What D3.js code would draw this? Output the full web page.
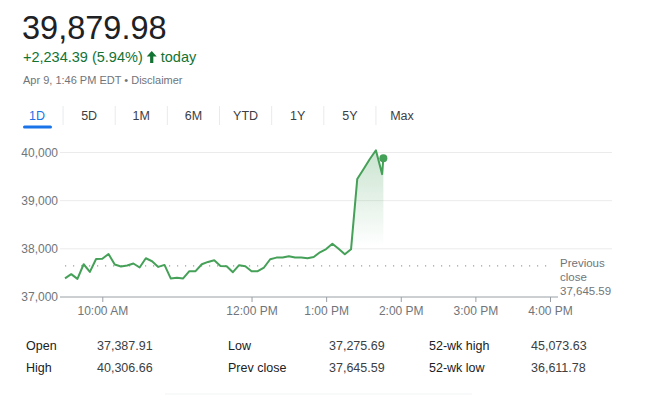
<!DOCTYPE html>
<html lang="en">
<head>
<meta charset="UTF-8">
<title>Intraday</title>
<script src="https://cdn.jsdelivr.net/npm/d3@7"></script>
<style>
  body { margin: 0; background: #fff; }
  svg { font-family: Arial, "Liberation Sans", sans-serif; display: block; }
</style>
</head>
<body>
<script>

    // intraday samples (5 min) + last print
    const times = ["9:30", "9:35", "9:40", "9:45", "9:50", "9:55", "10:00", "10:05", "10:10", "10:15",
        "10:20", "10:25", "10:30", "10:35", "10:40", "10:45", "10:50", "10:55", "11:00", "11:05",
        "11:10", "11:15", "11:20", "11:25", "11:30", "11:35", "11:40", "11:45", "11:50", "11:55",
        "12:00", "12:05", "12:10", "12:15", "12:20", "12:25", "12:30", "12:35", "12:40", "12:45",
        "12:50", "12:55", "13:00", "13:05", "13:10", "13:15", "13:20", "13:25", "13:30", "13:35",
        "13:40", "13:45", "13:46"];
    const prices = [37388, 37474, 37377, 37680, 37522, 37790, 37794, 37893, 37674, 37633,
        37654, 37695, 37612, 37804, 37742, 37625, 37666, 37386, 37402, 37386,
        37536, 37536, 37680, 37728, 37763, 37645, 37639, 37515, 37660, 37639,
        37536, 37536, 37612, 37784, 37818, 37818, 37845, 37818, 37818, 37804,
        37831, 37928, 37996, 38107, 38000, 37887, 37990, 39448, 39654, 39860,
        40046, 39551, 39879.98];

    const prev_close = 37645.59;
    const y_ticks = [37000, 38000, 39000, 40000];
    const x_ticks = ["10:00", "12:00", "13:00", "14:00", "15:00", "16:00"];
    const tabs = ["1D", "5D", "1M", "6M", "YTD", "1Y", "5Y", "Max"];
    const stat_labels = [["Open", "High"], ["Low", "Prev close"], ["52-wk high", "52-wk low"]];
    const stat_values = [["37,387.91", "40,306.66"], ["37,275.69", "37,645.59"], ["45,073.63", "36,611.78"]];

    const width = 650, height = 396;
    const green = "#45a058", text_green = "#137333", grey = "#70757a", dark = "#202124";

    const parse = d3.timeParse("%H:%M");
    const data = times.map((t, i) => ({t: parse(t), v: prices[i]}));

    const svg = d3.select("body").append("svg").attr("width", width).attr("height", height);

    // header
    svg.append("text").attr("x", 22).attr("y", 39).attr("font-size", 32.5).attr("fill", dark)
        .text("39,879.98");
    const change = svg.append("text").attr("x", 23).attr("y", 62).attr("font-size", 14.5).attr("fill", text_green)
        .text("+2,234.39 (5.94%)");
    const cx = 23 + change.node().getComputedTextLength() + 9;
    // up arrow icon
    svg.append("path")
        .attr("transform", `translate(${cx},57)`)
        .attr("d", "M0,-6 L5,-0.5 L1.6,-0.5 L1.6,6 L-1.6,6 L-1.6,-0.5 L-5,-0.5 Z")
        .attr("fill", text_green);
    svg.append("text").attr("x", cx + 9).attr("y", 62).attr("font-size", 14.5).attr("fill", text_green)
        .text("today");
    svg.append("text").attr("x", 23).attr("y", 84).attr("font-size", 11).attr("fill", grey)
        .text("Apr 9, 1:46 PM EDT \u2022 Disclaimer");

    // range tabs
    const tab_x = d3.scalePoint().domain(tabs).range([37, 402]);
    const tab = svg.append("g").selectAll("g").data(tabs).join("g");
    tab.append("text")
        .attr("x", d => tab_x(d)).attr("y", 119.5)
        .attr("text-anchor", "middle").attr("font-size", 12.5)
        .attr("fill", (d, i) => i === 0 ? "#1a73e8" : "#3c4043")
        .text(d => d);
    tab.filter((d, i) => i < tabs.length - 1).append("line")
        .attr("x1", d => tab_x(d) + tab_x.step() / 2).attr("x2", d => tab_x(d) + tab_x.step() / 2)
        .attr("y1", 106).attr("y2", 125)
        .attr("stroke", "#e8eaed");
    svg.append("rect").attr("x", 23).attr("y", 125.5).attr("width", 29).attr("height", 3)
        .attr("rx", 1.5).attr("fill", "#1a73e8");

    // chart
    const x = d3.scaleTime().domain([parse("9:30"), parse("16:00")]).range([65, 550]);
    const y = d3.scaleLinear().domain([37000, 40000]).range([297, 152.5]);

    svg.append("g").selectAll("line").data(y_ticks.slice(1)).join("line")
        .attr("x1", 60).attr("x2", 612)
        .attr("y1", d => y(d)).attr("y2", d => y(d))
        .attr("stroke", "#ebebeb");

    svg.append("g").selectAll("text").data(y_ticks).join("text")
        .attr("x", 58).attr("y", d => y(d)).attr("dy", "0.35em")
        .attr("text-anchor", "end").attr("font-size", 12).attr("fill", grey)
        .text(d3.format(","));

    const x_axis = svg.append("g")
        .attr("transform", `translate(0,${y(37000)})`)
        .call(d3.axisBottom(x)
            .tickValues(x_ticks.map(parse))
            .tickFormat(d3.timeFormat("%-I:%M %p"))
            .tickSize(5)
            .tickPadding(4));
    x_axis.select(".domain").remove();
    x_axis.selectAll(".tick line").attr("stroke", "#9aa0a6");
    x_axis.selectAll(".tick text").attr("font-size", 12).attr("fill", grey)
        .attr("font-family", "Arial, 'Liberation Sans', sans-serif");
    svg.append("line")
        .attr("x1", 60).attr("x2", 558)
        .attr("y1", y(37000)).attr("y2", y(37000))
        .attr("stroke", "#9aa0a6");

    // previous close
    svg.append("line")
        .attr("x1", x(parse("9:30"))).attr("x2", 553)
        .attr("y1", y(prev_close)).attr("y2", y(prev_close))
        .attr("stroke", "#9aa0a6").attr("stroke-width", 1.2)
        .attr("stroke-dasharray", "1.2 6.8");
    svg.append("text").attr("font-size", 11.5).attr("fill", grey)
        .selectAll("tspan").data(["Previous", "close", d3.format(",.2f")(prev_close)]).join("tspan")
        .attr("x", 560).attr("y", (d, i) => 267 + i * 14)
        .text(d => d);

    // area gradient
    const grad = svg.append("defs").append("linearGradient")
        .attr("id", "fade").attr("gradientUnits", "userSpaceOnUse")
        .attr("x1", 0).attr("x2", 0).attr("y1", y(40000)).attr("y2", y(38050));
    grad.append("stop").attr("offset", 0).attr("stop-color", green).attr("stop-opacity", 0.28);
    grad.append("stop").attr("offset", 1).attr("stop-color", green).attr("stop-opacity", 0);

    svg.append("path").datum(data)
        .attr("fill", "url(#fade)")
        .attr("d", d3.area().x(d => x(d.t)).y0(y(37000)).y1(d => y(d.v)));

    svg.append("path").datum(data)
        .attr("fill", "none").attr("stroke", green).attr("stroke-width", 2)
        .attr("stroke-linejoin", "round")
        .attr("d", d3.line().x(d => x(d.t)).y(d => y(d.v)));

    const last = data[data.length - 1];
    svg.append("circle").attr("cx", x(last.t)).attr("cy", y(last.v)).attr("r", 4).attr("fill", green);

    // stats
    const col_label = [26, 228, 429], col_value = [97, 329, 531];
    stat_labels.forEach((col, c) => {
        col.forEach((lab, r) => {
            svg.append("text").attr("x", col_label[c]).attr("y", 350 + r * 22)
                .attr("font-size", 12.5).attr("fill", dark).text(lab);
            svg.append("text").attr("x", col_value[c]).attr("y", 350 + r * 22)
                .attr("font-size", 12.5).attr("fill", "#3c4043").text(stat_values[c][r]);
        });
    });
    svg.append("line").attr("x1", 165).attr("x2", 472).attr("y1", 394).attr("y2", 394)
        .attr("stroke", "#f1f3f4");

</script>
</body>
</html>
